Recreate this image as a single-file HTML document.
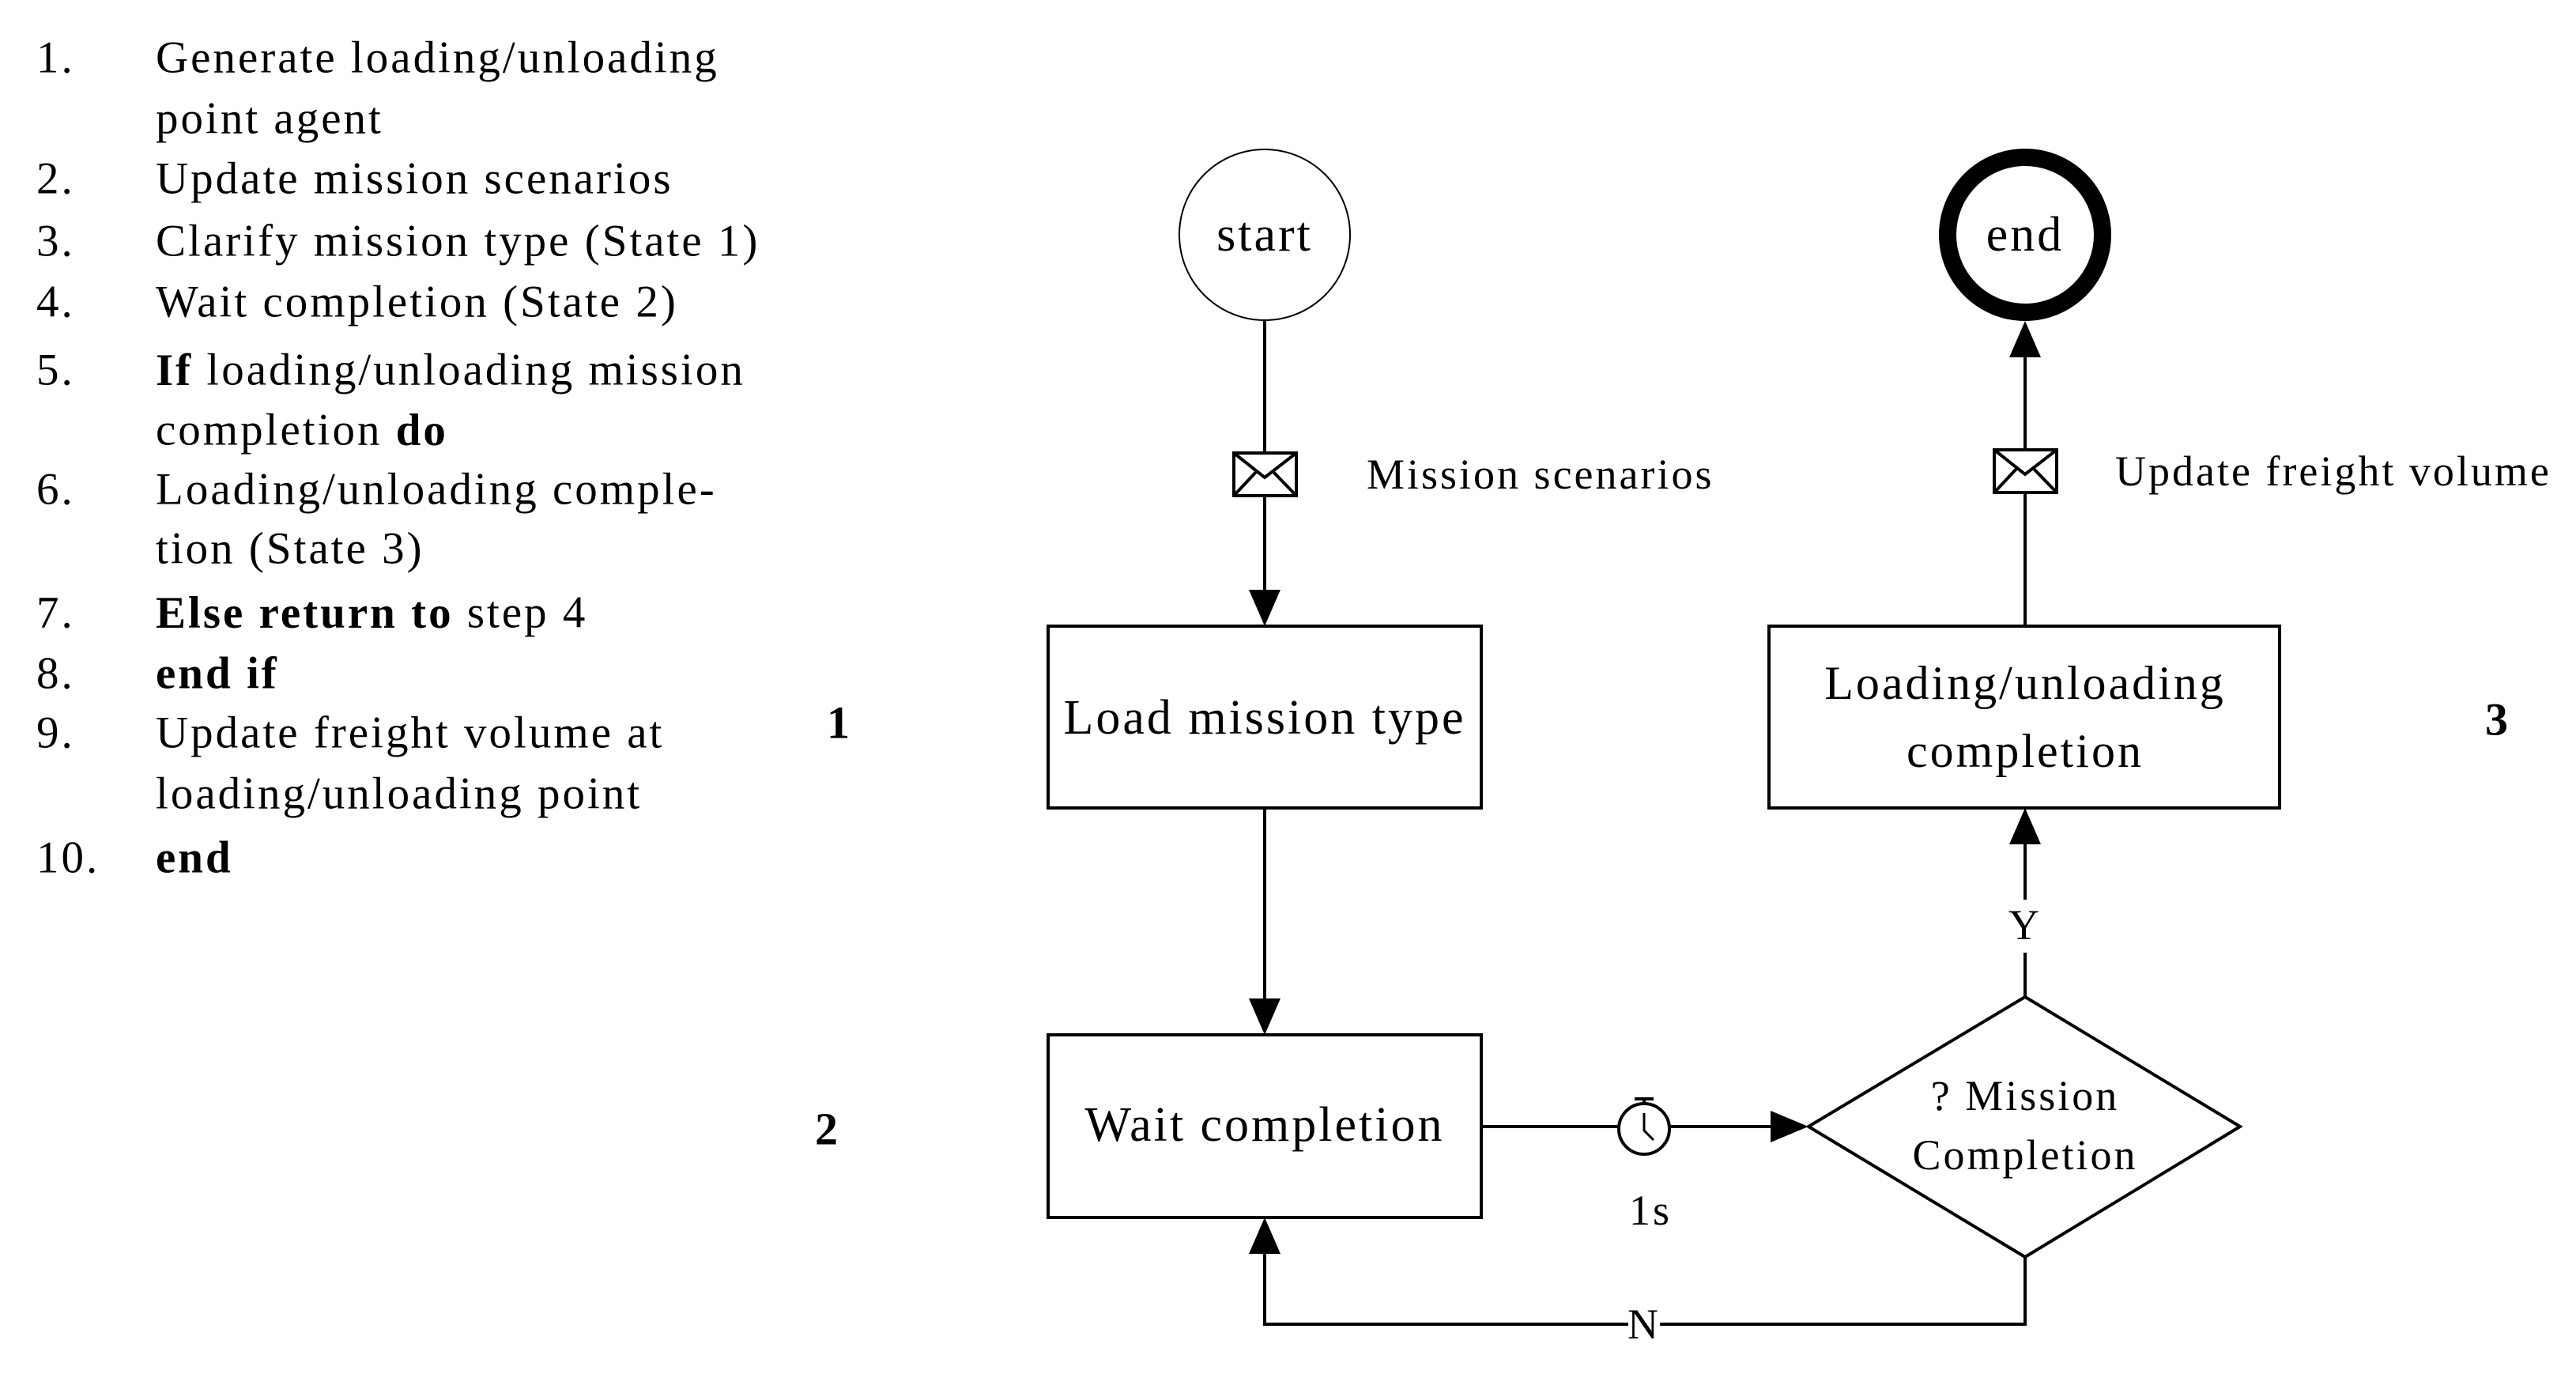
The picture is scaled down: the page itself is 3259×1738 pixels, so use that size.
<!DOCTYPE html>
<html><head><style>
html,body{margin:0;padding:0;background:#fff;}
svg{display:block;}
svg text{font-family:"Liberation Serif","DejaVu Serif",serif;fill:#000;letter-spacing:3px;}
</style></head><body>
<svg width="3259" height="1738" viewBox="0 0 3259 1738" xmlns="http://www.w3.org/2000/svg">
<g font-size="57" dominant-baseline="central">
<text x="46" y="73">1.</text><text x="197" y="73">Generate loading/unloading</text>
<text x="197" y="150">point agent</text>
<text x="46" y="226">2.</text><text x="197" y="226">Update mission scenarios</text>
<text x="46" y="305">3.</text><text x="197" y="305">Clarify mission type (State 1)</text>
<text x="46" y="382">4.</text><text x="197" y="382">Wait completion (State 2)</text>
<text x="46" y="468">5.</text><text x="197" y="468"><tspan font-weight="bold">If</tspan> loading/unloading mission</text>
<text x="197" y="544">completion <tspan font-weight="bold">do</tspan></text>
<text x="46" y="619">6.</text><text x="197" y="619">Loading/unloading comple-</text>
<text x="197" y="694">tion (State 3)</text>
<text x="46" y="775">7.</text><text x="197" y="775"><tspan font-weight="bold">Else return to</tspan> step 4</text>
<text x="46" y="852">8.</text><text x="197" y="852" font-weight="bold">end if</text>
<text x="46" y="927">9.</text><text x="197" y="927">Update freight volume at</text>
<text x="197" y="1004">loading/unloading point</text>
<text x="46" y="1085">10.</text><text x="197" y="1085" font-weight="bold">end</text>
</g>
<g font-size="58" font-weight="bold" dominant-baseline="central" text-anchor="middle">
<text x="1062" y="914">1</text><text x="1047" y="1428">2</text><text x="3160" y="910">3</text>
</g>
<g stroke="#000" stroke-width="4" fill="none">
<circle cx="1600" cy="297" r="108" stroke-width="2"/>
<circle cx="2562" cy="297" r="98" stroke-width="22"/>
<line x1="1600" y1="405" x2="1600" y2="750"/>
<rect x="1326" y="792" width="548" height="230"/>
<line x1="1600" y1="1022" x2="1600" y2="1265"/>
<rect x="1326" y="1309" width="548" height="231"/>
<line x1="1874" y1="1425" x2="2245" y2="1425"/>
<line x1="2562" y1="1261" x2="2562" y2="1205"/>
<line x1="2562" y1="1138" x2="2562" y2="1065"/>
<rect x="2238" y="792" width="646" height="230"/>
<line x1="2562" y1="792" x2="2562" y2="450"/>
<polyline points="2562,1590 2562,1675 1600,1675 1600,1585"/>
</g>
<polygon points="2288,1425 2562,1261 2834,1425 2562,1590" fill="#fff" stroke="#000" stroke-width="4"/>
<g fill="#000">
<polygon points="1580,746 1620,746 1600,792"/>
<polygon points="1580,1263 1620,1263 1600,1309"/>
<polygon points="2240,1405 2240,1445 2288,1425"/>
<polygon points="2542,1068 2582,1068 2562,1022"/>
<polygon points="2542,452 2582,452 2562,406"/>
<polygon points="1580,1586 1620,1586 1600,1540"/>
</g>
<g stroke="#000" stroke-width="4" fill="#fff">
<rect x="1561" y="573" width="79" height="54"/>
<polyline points="1561,573 1600,604 1640,573" fill="none"/>
<polyline points="1561,627 1590,596" fill="none"/><polyline points="1640,627 1610,596" fill="none"/>
<rect x="2523" y="569" width="79" height="54"/>
<polyline points="2523,569 2562,600 2602,569" fill="none"/>
<polyline points="2523,623 2552,592" fill="none"/><polyline points="2602,623 2572,592" fill="none"/>
<circle cx="2080" cy="1428" r="32"/>
<line x1="2068" y1="1390" x2="2092" y2="1390"/>
<line x1="2080" y1="1390" x2="2080" y2="1396"/>
<polyline points="2080,1408 2080,1430 2092,1442" fill="none" stroke-width="3"/>
</g>
<g font-size="54" dominant-baseline="central">
<text x="1729" y="600">Mission scenarios</text>
<text x="2676" y="596">Update freight volume</text>
</g>
<g dominant-baseline="central" text-anchor="middle">
<text x="1600" y="297" font-size="62">start</text>
<text x="2562" y="297" font-size="62">end</text>
<text x="1600" y="908" font-size="62">Load mission type</text>
<text x="1600" y="1423" font-size="62">Wait completion</text>
<text x="2562" y="864" font-size="60">Loading/unloading</text>
<text x="2562" y="950" font-size="60">completion</text>
<text x="2562" y="1386" font-size="54">? Mission</text>
<text x="2562" y="1461" font-size="54">Completion</text>
<text x="2562" y="1170" font-size="54">Y</text>
<text x="2088" y="1531" font-size="54">1s</text>
<rect x="2060" y="1650" width="40" height="50" fill="#fff"/>
<text x="2080" y="1675" font-size="54">N</text>
</g>
</svg>
</body></html>
